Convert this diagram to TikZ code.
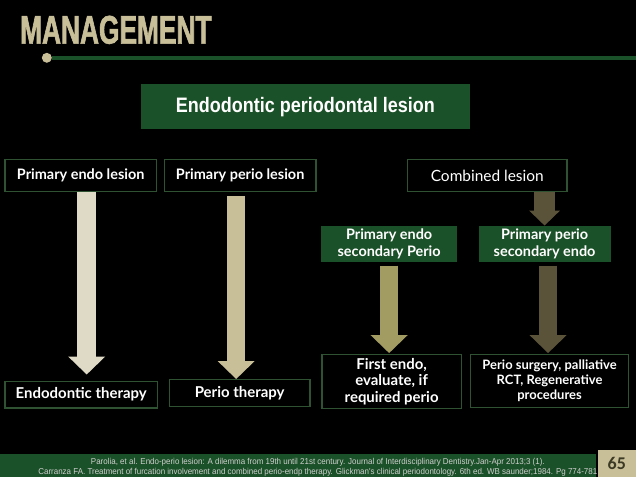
\documentclass[tikz,border=0pt]{standalone}
\usepackage{fontspec}
\setmainfont{Lato}
\newfontfamily\headfont[FakeStretch=0.66,FakeBold=1.5]{Liberation Sans}
\newfontfamily\lesionfont[FakeStretch=0.86]{Liberation Sans}
\newfontfamily\reffont[FakeStretch=0.93]{Liberation Sans}
\newfontfamily\pagefont{Carlito}
\usetikzlibrary{arrows.meta}
\definecolor{slidegreen}{HTML}{1B5128}
\definecolor{boxedge}{HTML}{2E5232}
\definecolor{khaki}{HTML}{C8BF99}
\definecolor{paleendo}{HTML}{DEDAC6}
\definecolor{olivearrow}{HTML}{A29B62}
\definecolor{darkolive}{HTML}{5B5339}
\definecolor{pagetext}{HTML}{3C3A24}
\definecolor{refgrey}{HTML}{CFCFCF}
\begin{document}
\begin{tikzpicture}[x=1pt,y=-1pt,
    outlinebox/.style={draw=boxedge,line width=1.3pt,text=white,inner sep=0pt,align=center,
      font=\bfseries\fontsize{14.5}{17}\selectfont},
    greenbox/.style={outlinebox,fill=slidegreen,draw=slidegreen},
    blockarrow/.style={line width=18pt,-{Triangle[width=36pt,length=18pt]}}]
    \fill[black] (0,0) rectangle (638,479);

    \node[anchor=west,inner sep=0pt,text=khaki,font=\headfont\bfseries\fontsize{40}{40}\selectfont] (title) at (20,30) {MANAGEMENT};
    \coordinate (dot) at (47,58);
    \coordinate (ruleend) at (638,58);
    \fill[khaki] (dot) circle (5);
    \draw[slidegreen,line width=4.5pt] ([xshift=5pt]dot) -- (ruleend);

    \node[greenbox,minimum width=329pt,minimum height=44pt,
      font=\lesionfont\bfseries\fontsize{21}{24}\selectfont] (lesion) at (306.5,107) {Endodontic periodontal lesion};

    % lesion types
    \foreach \n/\x/\w/\t in {pel/81/152/Primary endo lesion,ppl/241/152/Primary perio lesion,comb/489/160/{\mdseries\fontsize{15.5}{17}\selectfont Combined lesion}}
        {\node[outlinebox,minimum width=\w pt,minimum height=32pt] (\n) at (\x,176) {\t};}
    \node[greenbox,minimum width=135pt,minimum height=35pt] (pesp) at (390.5,244.5) {Primary endo\\secondary Perio};
    \node[greenbox,minimum width=131pt,minimum height=35pt] (ppse) at (546.5,244.5) {Primary perio\\secondary endo};

    % treatments
    \node[outlinebox,minimum width=153pt,minimum height=27pt,font=\bfseries\fontsize{15}{17}\selectfont] (et) at (81.5,396) {Endodontic therapy};
    \node[outlinebox,minimum width=141pt,minimum height=27pt,font=\bfseries\fontsize{15}{17}\selectfont] (pt) at (240.5,394.5) {Perio therapy};
    \node[outlinebox,minimum width=140pt,minimum height=54pt,font=\bfseries\fontsize{15}{16.5}\selectfont] (fe) at (393,383) {First endo,\\evaluate, if\\required perio};
    \node[outlinebox,minimum width=158pt,minimum height=53pt,font=\bfseries\fontsize{13}{15}\selectfont] (ps) at (551.5,382.5) {Perio surgery, palliative\\RCT, Regenerative\\procedures};

    \draw[blockarrow,paleendo,line width=19pt,shorten >=6pt] ([xshift=6pt]pel.south) -- ([xshift=6pt]pel.south |- et.north);
    \draw[blockarrow,khaki,shorten <=4pt] ([xshift=-4pt]ppl.south) -- ([xshift=-4pt]ppl.south |- pt.north);
    \draw[darkolive,line width=21pt,-{Triangle[width=30pt,length=15pt]}] (ppse.north |- comb.south) -- (ppse.north);
    \draw[blockarrow,olivearrow,shorten <=4pt,shorten >=1pt] (pesp.south) -- (pesp.south |- fe.north);
    \draw[blockarrow,darkolive,shorten <=4pt,shorten >=1pt] ([xshift=3.5pt]ppse.south) -- ([xshift=3.5pt]ppse.south |- ps.north);

    % references
    \fill[slidegreen] (0,456) rectangle (598,479);
    \node[inner sep=0pt,text=refgrey,font=\reffont\fontsize{8.6}{10}\selectfont] (ref1) at (319,464)
        {Parolia, et al. Endo-perio lesion: A dilemma from 19th until 21st century. Journal of Interdisciplinary Dentistry.Jan-Apr 2013;3 (1).};
    \node[inner sep=0pt,text=refgrey,font=\reffont\fontsize{8.6}{10}\selectfont] (ref2) at (319,474)
        {Carranza FA. Treatment of furcation involvement and combined perio-endp therapy. Glickman's clinical periodontology. 6th ed. WB saunder;1984. Pg 774-781};
    \node[fill=khaki,minimum width=38pt,minimum height=27pt,inner sep=0pt,text=pagetext,
      font=\pagefont\bfseries\fontsize{18}{18}\selectfont] (page) at (619,465.5) {65};
\end{tikzpicture}
\end{document}
